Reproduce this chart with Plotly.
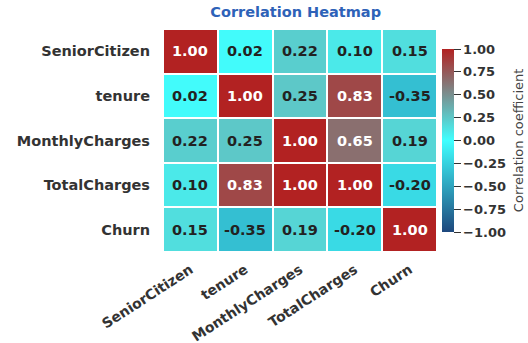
import plotly.graph_objects as go

labels = ["SeniorCitizen", "tenure", "MonthlyCharges", "TotalCharges", "Churn"]
values = [
    [1.00, 0.02, 0.22, 0.10, 0.15],
    [0.02, 1.00, 0.25, 0.83, -0.35],
    [0.22, 0.25, 1.00, 0.65, 0.19],
    [0.10, 0.83, 1.00, 1.00, -0.20],
    [0.15, -0.35, 0.19, -0.20, 1.00],
]
cbar_ticks = [-1.0, -0.75, -0.5, -0.25, 0.0, 0.25, 0.5, 0.75, 1.0]
cbar_title = "Correlation coefficient"
chart_title = "Correlation Heatmap"

colorscale = [[0.0, "rgb(30,72,125)"], [0.5, "rgb(64,255,255)"], [1.0, "rgb(178,34,34)"]]

fig = go.Figure(go.Heatmap(
    z=values, x=labels, y=labels, zmin=-1, zmax=1,
    colorscale=colorscale, xgap=2, ygap=2, hoverongaps=False,
    colorbar=dict(
        x=1.018, xanchor="left", y=0.5, len=0.82, thickness=12, xpad=0, ypad=0,
        outlinewidth=0, ticks="outside", ticklen=7, tickcolor="#333",
        tickvals=cbar_ticks,
        ticktext=[f"{v:.2f}".replace("-", "\u2212") for v in cbar_ticks],
        tickfont=dict(family="DejaVu Sans", size=13, color="#333", weight="bold"),
    ),
))

for i, row in enumerate(values):
    for j, v in enumerate(row):
        fig.add_annotation(
            x=labels[j], y=labels[i], text=f"{v:.2f}", showarrow=False,
            font=dict(family="DejaVu Sans", size=14.5, weight="bold",
                      color="white" if v > 0.5 else "#222"),
        )

fig.add_annotation(
    text=cbar_title, xref="paper", yref="paper", x=1.298, y=0.5,
    xanchor="center", yanchor="middle", textangle=-90, showarrow=False,
    font=dict(family="DejaVu Sans", size=13, color="#444"),
)

fig.update_layout(
    width=528, height=343,
    margin=dict(l=163, r=91, t=29, b=91),
    paper_bgcolor="white", plot_bgcolor="white",
    title=dict(text=chart_title, x=0.56, xanchor="center", y=0.965, yanchor="middle",
               font=dict(family="DejaVu Sans", size=14.5, color="#2e62b8", weight="bold")),
    xaxis=dict(tickangle=-33, showgrid=False, zeroline=False, ticks="", automargin=False,
               ticklabelstandoff=6,
               tickfont=dict(family="DejaVu Sans", size=14, color="#333", weight="bold")),
    yaxis=dict(autorange="reversed", showgrid=False, zeroline=False, ticks="", automargin=False,
               ticklabelstandoff=12,
               tickfont=dict(family="DejaVu Sans", size=14.5, color="#333", weight="bold")),
)

fig.write_html("out.html", config={"displayModeBar": False},
               post_script="document.body.style.margin='0';")
